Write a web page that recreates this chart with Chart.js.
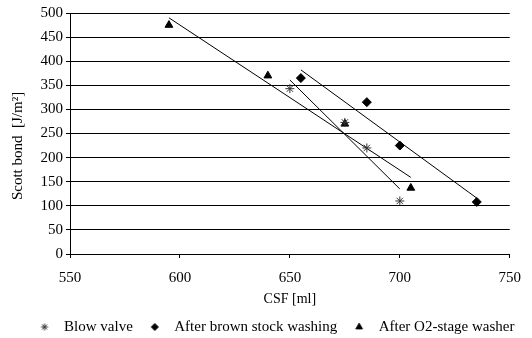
<!DOCTYPE html>
<html>
<head>
<meta charset="utf-8">
<script src="https://cdn.jsdelivr.net/npm/chart.js@4/dist/chart.umd.min.js"></script>
<style>
  html, body { margin: 0; padding: 0; background: #fff; }
  #wrap { width: 532px; height: 338px; }
</style>
</head>
<body>
<div id="wrap"><canvas id="c" width="532" height="338"></canvas></div>
<script>
// Scott bond strength against freeness (CSF) at three sampling points
const seriesNames = ['Blow valve', 'After brown stock washing', 'After O2-stage washer'];

const blowValveCSF  = [650, 675, 685, 700];
const blowValveBond = [343, 273, 220, 110];

const brownStockCSF  = [655, 685, 700, 735];
const brownStockBond = [365, 315, 225, 108];

const o2WasherCSF  = [595, 640, 675, 705];
const o2WasherBond = [475, 370, 270, 137];

// linear trend lines, start and end points
const blowValveTrendCSF   = [650, 700];
const blowValveTrendBond  = [361, 135];
const brownStockTrendCSF  = [655, 735];
const brownStockTrendBond = [382, 116];
const o2WasherTrendCSF    = [595, 705];
const o2WasherTrendBond   = [490, 159];

// axis ranges and tick steps
const xRange = [550, 750];
const xStep = 50;
const yRange = [0, 500];
const yStep = 50;

const xTitle = 'CSF [ml]';
const yTitle = 'Scott bond  [J/m²]';

const toPoints = (xs, ys) => xs.map((x, i) => ({ x, y: ys[i] }));

Chart.defaults.font.family = '"Liberation Serif", "Times New Roman", serif';
Chart.defaults.color = '#000';

const markerStyles = [
  { pointStyle: 'star',    radius: 4.5, backgroundColor: '#333', borderColor: '#333' },
  { pointStyle: 'rectRot', radius: 4.5, backgroundColor: '#000', borderColor: '#000' },
  { pointStyle: 'triangle',radius: 4.5, backgroundColor: '#000', borderColor: '#000' }
];

// small legend swatches drawn with the library's own point renderer
function markerImage(m, r) {
  const cv = document.createElement('canvas');
  cv.width = 14; cv.height = 14;
  const g = cv.getContext('2d');
  g.fillStyle = m.backgroundColor;
  g.strokeStyle = m.borderColor;
  g.lineWidth = 1;
  Chart.helpers.drawPoint(g, { pointStyle: m.pointStyle, radius: r, borderWidth: 1, rotation: 0 }, 7, 7);
  return cv;
}
const legendMarkers = [markerImage(markerStyles[0], 3.5), markerImage(markerStyles[1], 3.5), markerImage(markerStyles[2], 3.8)];

const seriesX = [blowValveCSF, brownStockCSF, o2WasherCSF];
const seriesY = [blowValveBond, brownStockBond, o2WasherBond];
const trendX = [blowValveTrendCSF, brownStockTrendCSF, o2WasherTrendCSF];
const trendY = [blowValveTrendBond, brownStockTrendBond, o2WasherTrendBond];

const datasets = [];
seriesNames.forEach((name, i) => {
  const m = markerStyles[i];
  datasets.push({
    label: name,
    data: toPoints(seriesX[i], seriesY[i]),
    pointStyle: m.pointStyle,
    pointRadius: m.radius,
    pointBackgroundColor: m.backgroundColor,
    pointBorderColor: m.borderColor,
    pointBorderWidth: 1,
    showLine: false
  });
});
seriesNames.forEach((name, i) => {
  datasets.push({
    label: name + ' trend',
    isTrend: true,
    data: toPoints(trendX[i], trendY[i]),
    showLine: true,
    borderColor: '#000',
    borderWidth: 1,
    pointRadius: 0,
    fill: false
  });
});

// y-axis title, placed beside the tick labels
const yTitlePlugin = {
  id: 'yTitlePlugin',
  afterDraw(chart) {
    const ctx = chart.ctx;
    ctx.save();
    ctx.translate(18, 146);
    ctx.rotate(-Math.PI / 2);
    ctx.font = '15px "Liberation Serif", serif';
    ctx.fillStyle = '#000';
    ctx.textAlign = 'center';
    ctx.textBaseline = 'middle';
    ctx.fillText(yTitle, 0, 0);
    ctx.restore();
  }
};

// nudge the legend row to the right
const legendShift = {
  id: 'legendShift',
  afterLayout(chart) {
    const lg = chart.legend;
    lg.left += 17;
    lg.right += 17;
  }
};

new Chart(document.getElementById('c'), {
  type: 'scatter',
  data: { datasets },
  plugins: [yTitlePlugin, legendShift],
  options: {
    responsive: false,
    animation: false,
    devicePixelRatio: 1,
    layout: { padding: { top: 13, right: 19, bottom: -6.5, left: 0 } },
    plugins: {
      tooltip: { enabled: false },
      legend: {
        position: 'bottom',
        labels: {
          usePointStyle: true,
          pointStyleWidth: 24,
          boxHeight: 6,
          padding: 10,
          color: '#000',
          font: { size: 15 },
          filter: (item, data) => !data.datasets[item.datasetIndex].isTrend,
          generateLabels(chart) {
            const items = Chart.defaults.plugins.legend.labels.generateLabels(chart);
            items.forEach(it => {
              if (it.datasetIndex < legendMarkers.length) it.pointStyle = legendMarkers[it.datasetIndex];
            });
            return items;
          }
        }
      }
    },
    scales: {
      x: {
        type: 'linear',
        min: xRange[0],
        max: xRange[1],
        ticks: { stepSize: xStep, color: '#000', font: { size: 15 }, padding: 11 },
        grid: { drawOnChartArea: false, drawTicks: true, tickLength: 4, color: '#000' },
        border: { color: '#000', width: 1 },
        title: { display: true, text: xTitle, color: '#000', font: { size: 14 }, padding: { top: 0, bottom: 1.5 } },
        afterFit(s) { s.height = 55.5; }
      },
      y: {
        type: 'linear',
        min: yRange[0],
        max: yRange[1],
        ticks: { stepSize: yStep, color: '#000', font: { size: 15 }, padding: 3 },
        grid: { color: '#000', lineWidth: 1, tickLength: 4 },
        border: { color: '#000', width: 1 },
        afterFit(s) { s.width = 70; }
      }
    }
  }
});
</script>
</body>
</html>
